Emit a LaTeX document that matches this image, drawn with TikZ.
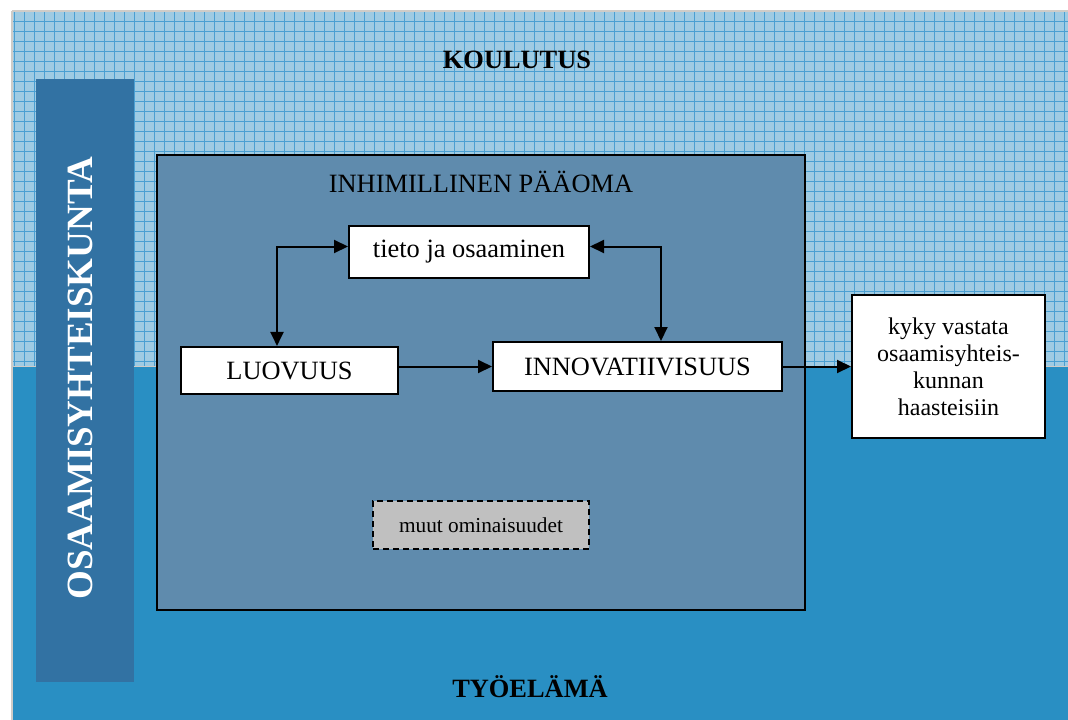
\documentclass[tikz,border=0pt]{standalone}
\usepackage{fontspec}
\setmainfont{Liberation Serif}
\usetikzlibrary{arrows.meta,calc}

\definecolor{skyfill}{HTML}{9FCBE3}
\definecolor{skygrid}{HTML}{4A9FD2}
\definecolor{workfill}{HTML}{298FC3}
\definecolor{barfill}{HTML}{3272A3}
\definecolor{capfill}{HTML}{5F8BAD}
\definecolor{edgegrey}{HTML}{CFCCC8}
\definecolor{mutedgrey}{HTML}{C0C0C0}

\tikzset{
  whitebox/.style={draw=black, line width=2pt, fill=white, inner sep=0pt, align=center},
  dashbox/.style={draw=black, line width=2pt, dash pattern=on 6pt off 4pt, fill=mutedgrey, inner sep=0pt},
  link/.style={line width=2pt, -{Triangle[length=14pt,width=13pt]}},
  biglink/.style={line width=2pt, {Triangle[length=14pt,width=13pt]}-{Triangle[length=14pt,width=13pt]}},
  bodyfont/.style={font=\fontsize{26.4}{30}\selectfont},
  titlefont/.style={font=\fontsize{26.4}{30}\selectfont\bfseries},
}

\begin{document}
\begin{tikzpicture}[x=1pt, y=-1pt]
  \useasboundingbox (0,0) rectangle (1068,720);
  \fill[white] (0,0) rectangle (1068,720);

  % education band with squared paper
  \fill[skyfill] (13,12) rectangle (1068,366);
  \begin{scope}
    \clip (13,12) rectangle (1068,366);
    \foreach \gx in {14,24,...,1064} {
      \draw[skygrid, line width=0.9pt] (\gx,12) -- (\gx,366);
    }
    \foreach \gy in {21.7,31.7,...,362} {
      \draw[skygrid, line width=0.9pt] (13,\gy) -- (1068,\gy);
    }
  \end{scope}

  % working life band
  \fill[workfill] (13,366) rectangle (1068,720);
  \draw[edgegrey, line width=1pt] (13,366) -- (1068,366);

  % outer edges
  \draw[edgegrey, line width=2pt] (12,11) -- (1068,11);
  \draw[edgegrey, line width=2pt] (12,11) -- (12,720);

  % knowledge society bar
  \fill[barfill] (36,79) rectangle (134,681.5);
  \node[rotate=90, text=white, font=\fontsize{37}{40}\selectfont\bfseries] (society) at (80,378) {OSAAMISYHTEISKUNTA};

  % band titles
  \node[titlefont] (koulutus) at (517,60) {KOULUTUS};
  \node[titlefont] (tyoelama) at (530,687) {TYÖELÄMÄ};

  % human capital frame
  \filldraw[fill=capfill, draw=black, line width=2pt] (157,155) rectangle (805,610);
  \node[bodyfont] (paaoma) at (481,182) {INHIMILLINEN PÄÄOMA};

  % inner boxes
  \node[whitebox, bodyfont, minimum width=240pt, minimum height=52pt] (tieto) at (469,252) {tieto ja osaaminen};
  \node[whitebox, bodyfont, minimum width=217pt, minimum height=47.5pt] (luovuus) at (289.5,370.7) {LUOVUUS};
  \node[whitebox, bodyfont, minimum width=289pt, minimum height=49pt] (inno) at (637.5,366.5) {INNOVATIIVISUUS};
  \node[dashbox, font=\fontsize{21.3}{24}\selectfont, minimum width=216pt, minimum height=48pt] (muut) at (481,525) {muut ominaisuudet};

  % outcome box
  \node[whitebox, font=\fontsize{24}{27}\selectfont, minimum width=193pt, minimum height=143pt] (kyky) at (948.5,366.5)
    {kyky vastata\\osaamisyhteis-\\kunnan\\haasteisiin};

  % connectors
  \draw[link] (inno.west -| luovuus.east) -- (inno.west);
  \draw[biglink] ([yshift=5.5pt]tieto.west) -| ([xshift=-12.5pt]luovuus.north);
  \draw[biglink] ([yshift=5.5pt]tieto.east) -| ([xshift=23.5pt]inno.north);
  \draw[link] (inno.east) -- (kyky.west);
\end{tikzpicture}
\end{document}
